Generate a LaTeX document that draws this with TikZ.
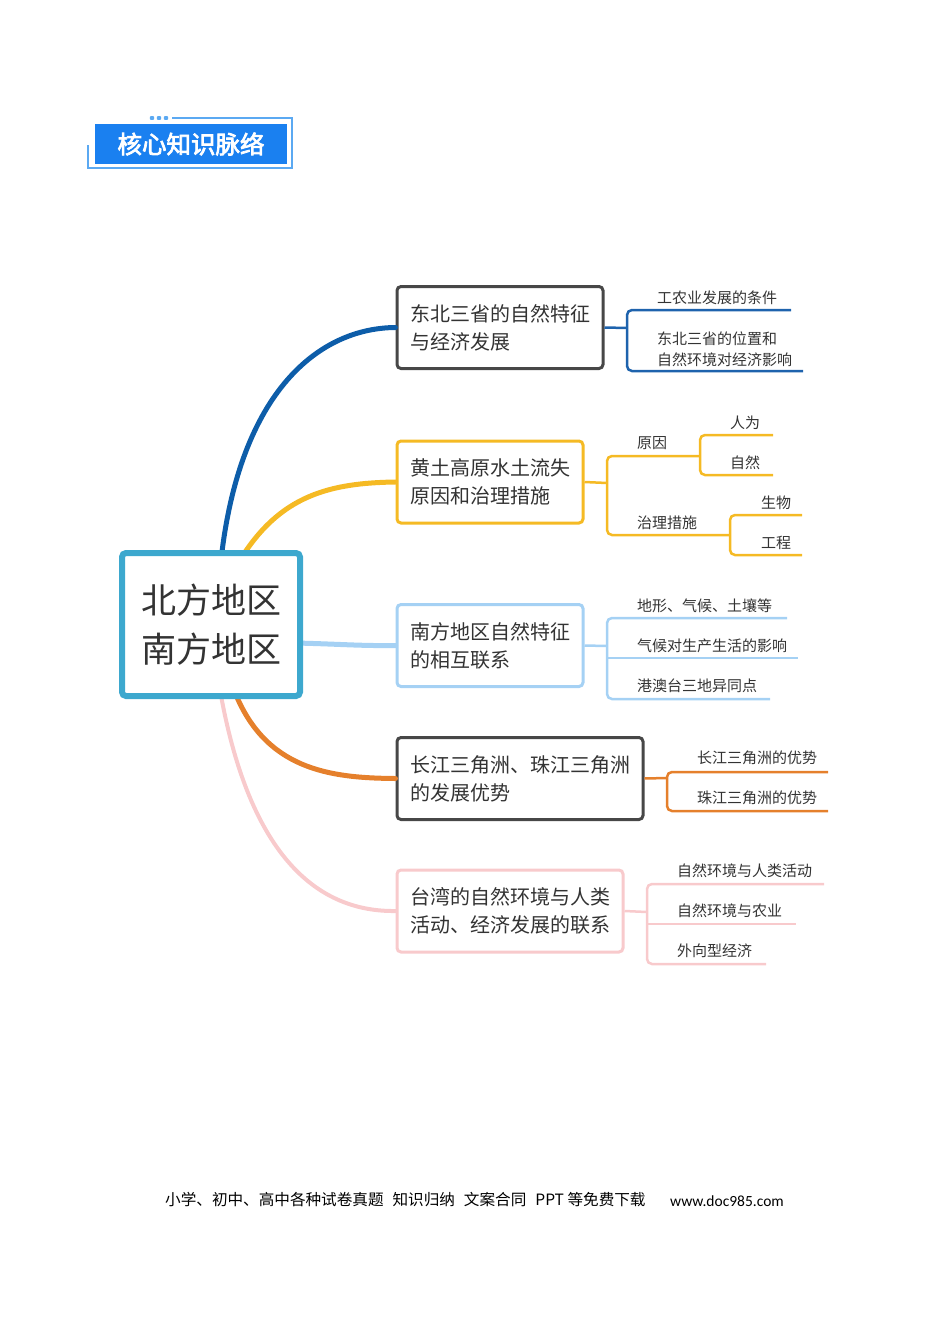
\documentclass[tikz,border=0pt]{standalone}
\usepackage{fontspec}
\setmainfont{Noto Sans CJK SC}
\newfontfamily\cjkb[FakeBold=3]{Noto Sans CJK SC}
\newfontfamily\carl{Carlito}
\definecolor{txt}{HTML}{333333}
\definecolor{ttlblue}{HTML}{1A80F0}
\definecolor{ttlline}{HTML}{5BA9F2}
\definecolor{cenc}{HTML}{3DA8CE}
\definecolor{grayb}{HTML}{474747}
\definecolor{navy}{HTML}{0D5DA9}
\definecolor{navys}{HTML}{1E63AD}
\definecolor{yel}{HTML}{F5BA24}
\definecolor{lblue}{HTML}{A5D1F4}
\definecolor{ora}{HTML}{E5802C}
\definecolor{pnk}{HTML}{F8CACC}
\begin{document}
\begin{tikzpicture}[x=1pt,y=-1pt,
  box/.style={draw, line width=3pt, rounded corners=4pt, fill=white, text=txt,
    inner xsep=13pt, inner ysep=0pt, align=left,
    font=\fontsize{20}{28}\selectfont, minimum height=82pt},
  leaf/.style={anchor=west, text=txt, inner sep=0pt, font=\fontsize{15}{21}\selectfont, align=left},
  branch/.style={line width=5pt, line cap=round},
  sub/.style={line width=2.5pt, rounded corners=5pt}]
\useasboundingbox (0,0) rectangle (950,1344);

% title badge
\draw[ttlline, line width=1.2pt] (172,118) -- (292,118) -- (292,168) -- (88,168) -- (88,145);
\foreach \xx in {152,159,166}
  \fill[ttlline, rounded corners=0.8pt] (\xx-2.2,116.2) rectangle (\xx+2.2,119.8);
\node[fill=ttlblue, minimum width=192pt, minimum height=40pt, inner sep=0pt,
  text=white, font=\cjkb\fontsize{24.5}{24.5}\selectfont] (title) at (191,144) {核心知识脉络};

% anchor points on the central node
\coordinate (c1) at (221,560);
\coordinate (c2) at (240,560);
\coordinate (c3) at (295,643);
\coordinate (c4) at (234,690);
\coordinate (c5) at (220,690);

% boxes
\node[box, draw=grayb, text width=180pt] (b1) at (500,327.5) {东北三省的自然特征\\与经济发展};
\node[box, draw=yel, text width=160pt] (b2) at (490,482) {黄土高原水土流失\\原因和治理措施};
\node[box, draw=lblue, text width=160pt] (b3) at (490,645.5) {南方地区自然特征\\的相互联系};
\node[box, draw=grayb, text width=220pt] (b4) at (520,778.5) {长江三角洲、珠江三角洲\\的发展优势};
\node[box, draw=pnk, text width=200pt] (b5) at (510,911) {台湾的自然环境与人类\\活动、经济发展的联系};

% main branches
\draw[branch, navy] (c1) .. controls (240,390) and (320,328) .. (b1.west);
\draw[branch, yel] (c2) .. controls (280,495) and (330,483) .. (b2.west);
\draw[branch, lblue] (c3) .. controls (340,644) and (360,646) .. (b3.west);
\draw[branch, ora] (c4) .. controls (265,770) and (330,778) .. (b4.west);
\draw[branch, pnk, line width=4pt] (c5) .. controls (250,860) and (320,912) .. (b5.west);

% central node
\node[draw=cenc, line width=6pt, rounded corners=4pt, fill=white, text=txt,
  minimum width=178pt, minimum height=143pt, align=center,
  font=\fontsize{35}{49}\selectfont] (center) at (211,624.5) {北方地区\\南方地区};

% ---- branch 1 leaves
\coordinate (j1) at (627,328);
\coordinate (e11) at (791,310);
\coordinate (e12) at (803,371);
\draw[sub, navys, rounded corners=0pt] (b1.east) -- (j1);
\draw[sub, navys] (e11) -- (627,310) -- (627,371) -- (e12);
\node[leaf] (t11) at (657,298) {工农业发展的条件};
\node[leaf] (t12) at (657,349) {东北三省的位置和\\自然环境对经济影响};

% ---- branch 2 leaves
\coordinate (j2) at (607,483);
\coordinate (e21) at (700,456);
\coordinate (e22) at (730,535);
\draw[sub, yel, rounded corners=0pt] (b2.east) -- (j2);
\draw[sub, yel] (e21) -- (607,456) -- (607,535) -- (e22);
\node[leaf] (t21) at (637,443) {原因};
\node[leaf] (t22) at (637,523) {治理措施};
\coordinate (e211) at (773,435);
\coordinate (e212) at (773,475);
\draw[sub, yel] (e211) -- (700,435) -- (700,475) -- (e212);
\draw[sub, yel, rounded corners=0pt] (e21) -- (700,456);
\node[leaf] (t211) at (730,423) {人为};
\node[leaf] (t212) at (730,463) {自然};
\coordinate (e221) at (802,515);
\coordinate (e222) at (802,555);
\draw[sub, yel] (e221) -- (730,515) -- (730,555) -- (e222);
\node[leaf] (t221) at (761,503) {生物};
\node[leaf] (t222) at (761,543) {工程};

% ---- branch 3 leaves
\coordinate (j3) at (607,646);
\coordinate (e31) at (787,618);
\coordinate (e32) at (798,658);
\coordinate (e33) at (770,699);
\draw[sub, lblue, rounded corners=0pt] (b3.east) -- (j3);
\draw[sub, lblue] (e31) -- (607,618) -- (607,699) -- (e33);
\draw[sub, lblue] (607,658) -- (e32);
\node[leaf] (t31) at (637,606) {地形、气候、土壤等};
\node[leaf] (t32) at (637,646) {气候对生产生活的影响};
\node[leaf] (t33) at (637,686) {港澳台三地异同点};

% ---- branch 4 leaves
\coordinate (j4) at (667,778);
\coordinate (e41) at (828,772);
\coordinate (e42) at (828,811);
\draw[sub, ora, rounded corners=0pt] (b4.east) -- (j4);
\draw[sub, ora] (e41) -- (667,772) -- (667,811) -- (e42);
\node[leaf] (t41) at (697,758) {长江三角洲的优势};
\node[leaf] (t42) at (697,798) {珠江三角洲的优势};

% ---- branch 5 leaves
\coordinate (j5) at (647,912);
\coordinate (e51) at (824,884);
\coordinate (e52) at (796,924);
\coordinate (e53) at (766,964);
\draw[sub, pnk, rounded corners=0pt] (b5.east) -- (j5);
\draw[sub, pnk] (e51) -- (647,884) -- (647,964) -- (e53);
\draw[sub, pnk] (647,924) -- (e52);
\node[leaf] (t51) at (677,871) {自然环境与人类活动};
\node[leaf] (t52) at (677,911) {自然环境与农业};
\node[leaf] (t53) at (677,951) {外向型经济};

% footer
\node[anchor=west, inner sep=0pt, text=black, font=\fontsize{15.6}{15.6}\selectfont] (foot) at (165,1200)
  {小学、初中、高中各种试卷真题\hspace{9pt}知识归纳\hspace{9pt}文案合同\hspace{9pt}PPT 等免费下载};
\node[anchor=west, inner sep=0pt, text=black, font=\carl\fontsize{15.5}{15.5}\selectfont] (url) at (670,1201) {www.doc985.com};
\end{tikzpicture}
\end{document}
